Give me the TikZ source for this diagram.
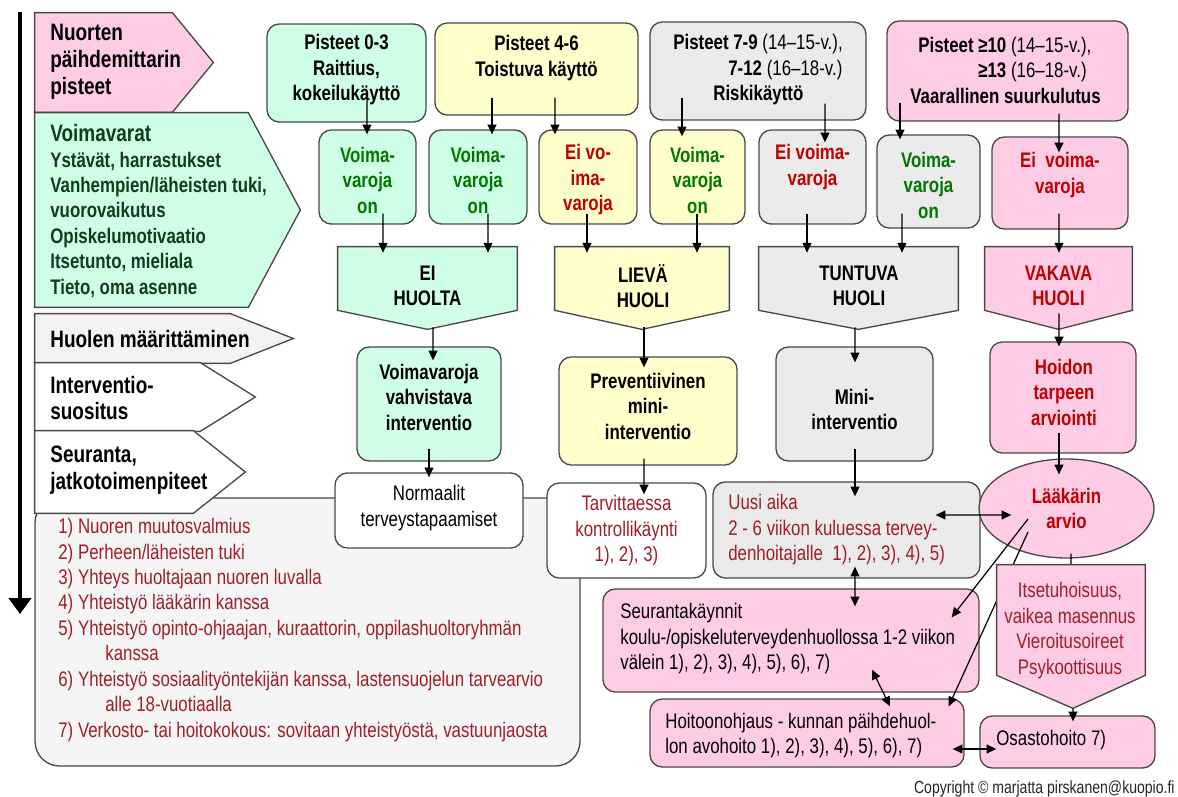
\documentclass[tikz,border=0pt]{standalone}
\usepackage{fontspec}
\setmainfont{Liberation Sans}[FakeStretch=0.8]
\usetikzlibrary{arrows.meta,fit,shapes.geometric,calc}
\definecolor{pk}{RGB}{255,204,230}
\definecolor{mint}{RGB}{208,255,232}
\definecolor{yel}{RGB}{255,255,204}
\definecolor{gry}{RGB}{235,235,235}
\definecolor{lgry}{RGB}{243,243,243}
\definecolor{lstg}{RGB}{245,245,245}
\definecolor{bd}{RGB}{72,72,72}
\definecolor{grn}{RGB}{0,120,0}
\definecolor{dgrn}{RGB}{12,64,24}
\definecolor{rd}{RGB}{192,0,0}
\definecolor{drd}{RGB}{160,30,40}
\tikzset{
 box/.style={draw=bd, line width=0.75pt, rounded corners=7pt, inner sep=0pt},
 area/.style={inner sep=0pt},
 shp/.style={draw=bd, line width=0.75pt, line join=miter},
 tx/.style={inner sep=0pt, align=center, font=\fontsize{12}{14.5}\selectfont},
 tb/.style={inner sep=0pt, align=center, font=\fontsize{12}{14.5}\selectfont\bfseries},
 tl/.style={inner sep=0pt, align=left, anchor=west, font=\fontsize{12}{14.5}\selectfont},
 tlb/.style={inner sep=0pt, align=left, anchor=west, font=\fontsize{12}{14.5}\selectfont\bfseries},
 lab/.style={inner sep=0pt, align=left, anchor=west, font=\fontsize{13.5}{15.3}\selectfont\bfseries},
 arr/.style={line width=0.7pt, -{Triangle[length=5.5pt,width=5pt]}},
 darr/.style={line width=0.7pt, {Triangle[length=5.5pt,width=5pt]}-{Triangle[length=5.5pt,width=5pt]}},
}
\begin{document}
\begin{tikzpicture}[x=0.02cm,y=-0.02cm]
\fill[white] (0,0) rectangle (1178,797);
\useasboundingbox (0,0) rectangle (1178,797);

% timeline arrow
\coordinate (vtop) at (20,12);
\coordinate (vbot) at (20,614);
\draw[line width=2.4pt, -{Triangle[length=9pt,width=12.5pt]}] (vtop) -- (vbot);

% list box
\node[box, fill=lstg, rounded corners=14pt, fit={(35,498) (580,766)}] (lst) {};
\node[tl, text=drd] (lstt) at (58,630) {1) Nuoren muutosvalmius\\
2) Perheen/läheisten tuki\\
3) Yhteys huoltajaan nuoren luvalla\\
4) Yhteistyö lääkärin kanssa\\
5) Yhteistyö opinto-ohjaajan, kuraattorin, oppilashuoltoryhmän\\
\hspace*{0.94cm}kanssa\\
6) Yhteistyö sosiaalityöntekijän kanssa, lastensuojelun tarvearvio\\
\hspace*{0.94cm}alle 18-vuotiaalla\\
7) Verkosto- tai hoitokokous: sovitaan yhteistyöstä, vastuunjaosta};

% left labels
\node[area, fit={(35,13) (172,112)}] (p1) {};
\draw[shp, fill=pk] (p1.north west) -- (p1.north east) -- ($(p1.east)+(41,0)$) -- (p1.south east) -- (p1.south west) -- cycle;
\node[lab] (p1t) at (50,62) {Nuorten\\päihdemittarin\\pisteet};

\node[area, fit={(35,113) (248,307)}] (p2) {};
\draw[shp, fill=mint] (p2.north west) -- (p2.north east) -- ($(p2.east)+(52,0)$) -- (p2.south east) -- (p2.south west) -- cycle;
\node[tlb, text=dgrn] (p2t) at (50,211) {{\fontsize{13.5}{15}\selectfont Voimavarat}\\Ystävät, harrastukset\\Vanhempien/läheisten tuki,\\vuorovaikutus\\Opiskelumotivaatio\\Itsetunto, mieliala\\Tieto, oma asenne};

\node[area, fit={(35,314) (230,363)}] (p3) {};
\draw[shp, fill=lgry] (p3.north west) -- (p3.north east) -- ($(p3.east)+(63,0)$) -- (p3.south east) -- (p3.south west) -- cycle;
\node[lab] (p3t) at (50,339) {Huolen määrittäminen};

\node[area, fit={(35,363) (200,431)}] (p4) {};
\draw[shp, fill=white] (p4.north west) -- (p4.north east) -- ($(p4.east)+(55,0)$) -- (p4.south east) -- (p4.south west) -- cycle;
\node[lab] (p4t) at (50,398) {Interventio-\\suositus};

\node[area, fit={(35,431) (193,513)}] (p5) {};
\draw[shp, fill=white] (p5.north west) -- (p5.north east) -- ($(p5.east)+(52,0)$) -- (p5.south east) -- (p5.south west) -- cycle;
\node[lab] (p5t) at (50,470) {Seuranta,\\jatkotoimenpiteet};

% top row
\node[box, fill=mint, fit={(267,24) (426,122)}] (b1) {};
\node[tb] (b1t) at (346.5,70) {Pisteet 0-3\\Raittius,\\kokeilukäyttö};
\node[box, fill=yel, fit={(435,23) (638,115)}] (b2) {};
\node[tb] (b2t) at (536.5,58) {Pisteet 4-6\\Toistuva käyttö};
\node[box, fill=gry, fit={(650,22) (866,120)}] (b3) {};
\node[tlb] (b3t) at (673,70) {Pisteet 7-9 {\mdseries(14–15-v.),}\\\hspace*{1.1cm}7-12 {\mdseries(16–18-v.)}\\\hspace*{0.8cm}Riskikäyttö};
\node[box, fill=pk, fit={(887,21) (1128,121)}] (b4) {};
\node[tlb] (b4t) at (910,70) {\hspace*{0.16cm}Pisteet ≥10 {\mdseries(14–15-v.),}\\\hspace*{1.36cm}≥13 {\mdseries(16–18-v.)}\\Vaarallinen suurkulutus};

% row 2
\node[box, fill=mint, fit={(319,130) (416,224)}] (v1) {};
\node[tb, text=grn] (v1t) at (367.5,180) {Voima-\\varoja\\on};
\node[box, fill=mint, fit={(429,130) (527,224)}] (v2) {};
\node[tb, text=grn] (v2t) at (478,180) {Voima-\\varoja\\on};
\node[box, fill=yel, fit={(539,130) (637,224)}] (e1) {};
\node[tb, text=rd] (e1t) at (588,180) {Ei vo-\\ima-\\varoja};
\node[box, fill=yel, fit={(650,130) (745,224)}] (v3) {};
\node[tb, text=grn] (v3t) at (697.5,180) {Voima-\\varoja\\on};
\node[box, fill=gry, fit={(759,130) (866,224)}] (e2) {};
\node[tb, text=rd] (e2t) at (812.5,167) {Ei voima-\\varoja};
\node[box, fill=gry, fit={(877,135) (980,228)}] (v4) {};
\node[tb, text=grn] (v4t) at (928.5,185) {Voima-\\varoja\\on};
\node[box, fill=pk, fit={(992,137) (1128,229)}] (e3) {};
\node[tb, text=rd] (e3t) at (1060,175) {Ei\ \ voima-\\varoja};

% row 3 (concern level)
\node[area, fit={(338,247) (517,310)}] (eh) {};
\draw[shp, fill=mint] (eh.north west) -- (eh.north east) -- (eh.south east) -- ($(eh.south)+(0,19)$) -- (eh.south west) -- cycle;
\node[tb] (eht) at (427.5,286) {EI\\HUOLTA};
\node[area, fit={(555,247) (729,310)}] (lh) {};
\draw[shp, fill=yel] (lh.north west) -- (lh.north east) -- (lh.south east) -- ($(lh.south)+(0,19)$) -- (lh.south west) -- cycle;
\node[tb] (lht) at (643,286) {LIEVÄ\\HUOLI};
\node[area, fit={(759,247) (958,310)}] (th) {};
\draw[shp, fill=gry] (th.north west) -- (th.north east) -- (th.south east) -- ($(th.south)+(0,19)$) -- (th.south west) -- cycle;
\node[tb] (tht) at (859,286) {TUNTUVA\\HUOLI};
\node[area, fit={(985,247) (1132,310)}] (vh) {};
\draw[shp, fill=pk] (vh.north west) -- (vh.north east) -- (vh.south east) -- ($(vh.south)+(0,19)$) -- (vh.south west) -- cycle;
\node[tb, text=rd] (vht) at (1058.5,286) {VAKAVA\\HUOLI};

% row 4
\node[box, fill=mint, fit={(357,347) (501,461)}] (i1) {};
\node[tb] (i1t) at (429,397) {Voimavaroja\\vahvistava\\interventio};
\node[box, fill=yel, fit={(559,357) (737,465)}] (i2) {};
\node[tb] (i2t) at (648,406) {Preventiivinen\\mini-\\interventio};
\node[box, fill=gry, fit={(776,347) (933,461)}] (i3) {};
\node[tb] (i3t) at (854.5,409.5) {Mini-\\interventio};
\node[box, fill=pk, fit={(990,342) (1136,453)}] (i4) {};
\node[tb, text=rd] (i4t) at (1064,392) {Hoidon\\tarpeen\\arviointi};

% row 5
\node[box, fill=white, fit={(335,473) (523,548)}] (n1) {};
\node[tx] (n1t) at (429,508) {Normaalit\\terveystapaamiset};
\node[box, fill=white, fit={(547,483) (706,578)}] (t1) {};
\node[tx, text=drd] (t1t) at (626.5,531) {Tarvittaessa\\kontrollikäynti\\1), 2), 3)};
\node[box, fill=gry, fit={(713,482) (980,578)}] (u1) {};
\node[tl, text=drd] (u1t) at (728,530) {Uusi aika\\2 - 6 viikon kuluessa tervey-\\denhoitajalle\ \ 1), 2), 3), 4), 5)};
\node[ellipse, draw=bd, line width=0.75pt, fill=pk, minimum width=3.5cm, minimum height=1.98cm, tb, text=rd] (la) at (1066.5,508.5) {Lääkärin\\arvio};

% row 6
\node[box, fill=pk, fit={(603,589) (979,692)}] (s1) {};
\node[tl] (s1t) at (620,639) {Seurantakäynnit\\koulu-/opiskeluterveydenhuollossa 1-2 viikon\\välein 1), 2), 3), 4), 5), 6), 7)};
\node[box, fill=pk, fit={(650,699) (964,767)}] (h1) {};
\node[tl] (h1t) at (665,735.5) {Hoitoonohjaus - kunnan päihdehuol-\\lon avohoito 1), 2), 3), 4), 5), 6), 7)};
\node[box, fill=pk, fit={(980,716) (1155,768)}] (osh) {};
\node[tl] (osht) at (996,740) {Osastohoito 7)};

% connectors top -> row 2
\draw[arr] ([shift={(20.5,-25)}]b1.south) -- ([shift={(-0.5,5)}]v1.north);
\draw[arr] ([shift={(-44.5,-18)}]b2.south) -- ([shift={(14,5)}]v2.north);
\draw[arr] ([shift={(18.5,-18)}]b2.south) -- ([shift={(-33,5)}]e1.north);
\draw[arr] ([shift={(-76,-23)}]b3.south) -- ([shift={(-15.5,7)}]v3.north);
\draw[arr] ([shift={(67,-17)}]b3.south) -- ([shift={(12.5,13)}]e2.north);
\draw[arr] ([shift={(-107.5,-19)}]b4.south) -- ([shift={(-28.5,5)}]v4.north);
\draw[arr] ([shift={(51.5,-8)}]b4.south) -- ([shift={(-1,16)}]e3.north);
% row 2 -> row 3
\draw[arr] ([shift={(15.5,-11)}]v1.south) -- ([shift={(-44.5,6)}]eh.north);
\draw[arr] ([shift={(10,-11)}]v2.south) -- ([shift={(60.5,6)}]eh.north);
\draw[arr] ([shift={(-1,-11)}]e1.south) -- ([shift={(-55,6)}]lh.north);
\draw[arr] ([shift={(-0.5,-11)}]v3.south) -- ([shift={(55,6)}]lh.north);
\draw[arr] ([shift={(-5.5,-11)}]e2.south) -- ([shift={(-51.5,6)}]th.north);
\draw[arr] ([shift={(-26.5,-15)}]v4.south) -- ([shift={(43.5,6)}]th.north);
\draw[arr] ([shift={(-1,-16)}]e3.south) -- ([shift={(0.5,6)}]vh.north);
% row 3 -> row 4
\draw[arr] ([shift={(5.5,17)}]eh.south) -- ([shift={(4,14)}]i1.north);
\draw[arr] ([shift={(2,17)}]lh.south) -- ([shift={(-4,11)}]i2.north);
\draw[arr] ([shift={(-3.5,17)}]th.south) -- ([shift={(0.5,16)}]i3.north);
\draw[arr] ([shift={(0.5,3)}]vh.south) -- ([shift={(-4,5)}]i4.north);
% row 4 -> row 5
\draw[arr] ([shift={(0,-13)}]i1.south) -- ([shift={(0,5)}]n1.north);
\draw[arr] ([shift={(-4,-7)}]i2.south) -- ([shift={(17.5,12)}]t1.north);
\draw[arr] ([shift={(0.5,-13)}]i3.south) -- ([shift={(8.5,15)}]u1.north);
\draw[arr] ([shift={(-4,-21)}]i4.south) -- ([shift={(-7.5,16)}]la.north);
% follow-up links
\draw[darr] ([shift={(-45,-15)}]u1.east) -- ([shift={(33,6.5)}]la.west);
\draw[darr] ([shift={(8.5,-12)}]u1.south) -- ([shift={(64,18)}]s1.north);
\draw[darr] ([shift={(81,-23)}]s1.south) -- ([shift={(83,8)}]h1.north);
\draw[darr] ([shift={(-12,16)}]h1.east) -- ([shift={(17,7)}]osh.west);
\draw[arr] ([shift={(-38.5,10.5)}]la.center) -- ([shift={(-28,29)}]s1.north east);
\draw[arr] ([shift={(-38.5,23.5)}]la.center) -- ([shift={(-16,8)}]h1.north east);

% severe symptoms
\node[area, fit={(997,565) (1145,675)}] (it) {};
\draw[line width=0.7pt] ([shift={(4.5,-5)}]la.south) -- (it.north);
\draw[shp, fill=pk] (it.north west) -- (it.north east) -- (it.south east) -- ($(it.south)+(2,33)$) -- (it.south west) -- cycle;
\node[tx, text=drd] (itt) at (1070,630.5) {Itsetuhoisuus,\\vaikea masennus\\Vieroitusoireet\\Psykoottisuus};
\draw[arr] ([shift={(2,33)}]it.south) -- ([shift={(5.5,6)}]osh.north);

% copyright
\node[anchor=east, inner sep=0pt, font=\fontsize{10}{12}\selectfont, text=black!85] (copy) at (1175,789) {Copyright © marjatta pirskanen@kuopio.fi};
\end{tikzpicture}
\end{document}
